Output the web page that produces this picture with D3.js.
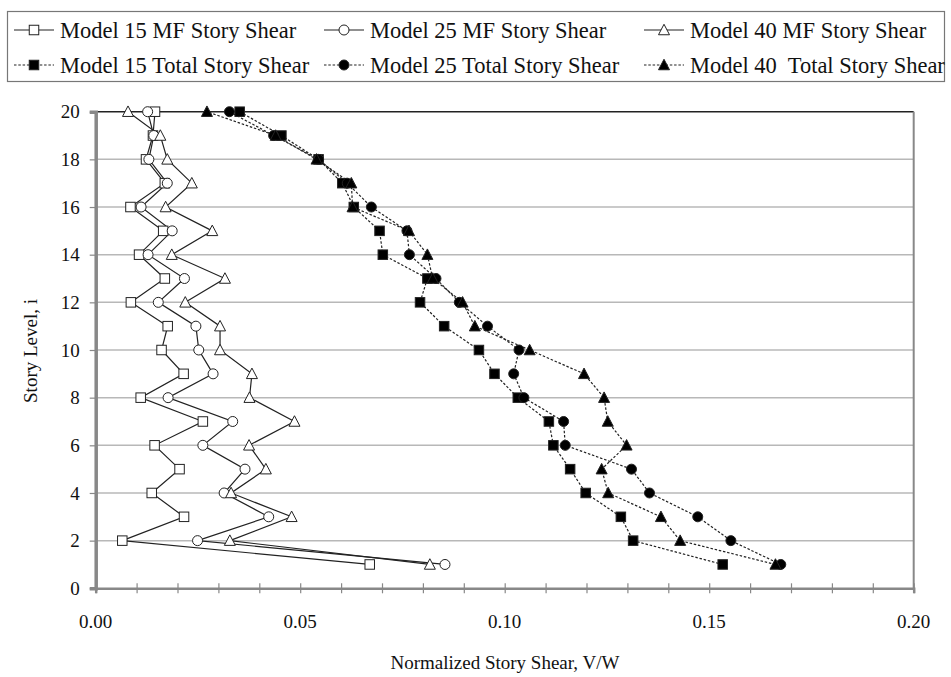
<!DOCTYPE html>
<html><head><meta charset="utf-8">
<script src="https://cdn.jsdelivr.net/npm/d3@7"></script>
<style>
html,body{margin:0;padding:0;background:#fff;}
svg text{font-family:"Liberation Serif",serif !important;fill:#111;white-space:pre;}
</style></head>
<body>
<svg id="chart" width="951" height="677"></svg>
<script>
const levels = [1,2,3,4,5,6,7,8,9,10,11,12,13,14,15,16,17,18,19,20];
const m15MF = [0.0670,0.0065,0.0216,0.0137,0.0205,0.0144,0.0262,0.0110,0.0215,0.0161,0.0176,0.0086,0.0169,0.0106,0.0165,0.0085,0.0169,0.0123,0.0140,0.0145];
const m25MF = [0.0854,0.0249,0.0423,0.0314,0.0365,0.0262,0.0335,0.0177,0.0287,0.0252,0.0245,0.0153,0.0217,0.0128,0.0187,0.0111,0.0175,0.0130,0.0142,0.0127];
const m40MF = [0.0817,0.0328,0.0479,0.0331,0.0416,0.0375,0.0486,0.0376,0.0382,0.0304,0.0304,0.0219,0.0316,0.0186,0.0285,0.0171,0.0235,0.0175,0.0158,0.0079];
const m15Total = [0.1533,0.1314,0.1284,0.1198,0.1160,0.1119,0.1108,0.1032,0.0975,0.0937,0.0852,0.0793,0.0811,0.0702,0.0694,0.0631,0.0603,0.0545,0.0454,0.0352];
const m25Total = [0.1675,0.1553,0.1472,0.1354,0.1310,0.1148,0.1144,0.1047,0.1022,0.1035,0.0958,0.0889,0.0832,0.0767,0.0761,0.0674,0.0615,0.0545,0.0435,0.0327];
const m40Total = [0.1662,0.1429,0.1382,0.1253,0.1237,0.1298,0.1252,0.1243,0.1194,0.1061,0.0927,0.0897,0.0824,0.0811,0.0766,0.0628,0.0625,0.0540,0.0440,0.0272];
const seriesNames = ["Model 15 MF Story Shear","Model 25 MF Story Shear","Model 40 MF Story Shear",
  "Model 15 Total Story Shear","Model 25 Total Story Shear","Model 40  Total Story Shear"];
const xTickLabels = [0, 0.05, 0.10, 0.15, 0.20];
const yTickLabels = [0,2,4,6,8,10,12,14,16,18,20];
const xTitle = "Normalized Story Shear, V/W";
const yTitle = "Story Level, i";

const series = [
  {name: seriesNames[0], values: m15MF, shape: "square", filled: false, dashed: false},
  {name: seriesNames[1], values: m25MF, shape: "circle", filled: false, dashed: false},
  {name: seriesNames[2], values: m40MF, shape: "triangle", filled: false, dashed: false},
  {name: seriesNames[3], values: m15Total, shape: "square", filled: true, dashed: true},
  {name: seriesNames[4], values: m25Total, shape: "circle", filled: true, dashed: true},
  {name: seriesNames[5], values: m40Total, shape: "triangle", filled: true, dashed: true}
];

const svg = d3.select("#chart");
const L = 95.7, R = 913.7, T = 111.7, B = 588.3;
const x = d3.scaleLinear().domain([0, 0.2]).range([L, R]);
const y = d3.scaleLinear().domain([0, 20]).range([B, T]);

// gridlines
svg.append("g").selectAll("line").data(yTickLabels.filter(d => d > 0 && d < 20)).join("line")
  .attr("x1", L).attr("x2", R).attr("y1", d => y(d)).attr("y2", d => y(d))
  .attr("stroke", "#b8b8b8").attr("stroke-width", 1.5);

// plot border top/right
svg.append("line").attr("x1", L).attr("x2", R).attr("y1", T).attr("y2", T).attr("stroke", "#222").attr("stroke-width", 1.5);
svg.append("line").attr("x1", R).attr("x2", R).attr("y1", T).attr("y2", B).attr("stroke", "#888").attr("stroke-width", 2);

// x axis
const xAxis = d3.axisBottom(x).tickValues(d3.range(0, 21).map(i => i / 100)).tickSize(5).tickFormat("");
const gx = svg.append("g").attr("transform", `translate(0,${B})`).call(xAxis);
gx.select(".domain").attr("stroke", "#888").attr("stroke-width", 2.5);
gx.selectAll(".tick line").attr("stroke", "#888").attr("stroke-width", 1.2).attr("y1", -5).attr("y2", 5);
svg.append("g").selectAll("text").data(xTickLabels).join("text")
  .attr("x", d => x(d)).attr("y", 628).attr("text-anchor", "middle")
  .attr("font-size", 19).text(d => d3.format(".2f")(d));

// y axis
const yAxis = d3.axisLeft(y).tickValues(yTickLabels).tickSize(6).tickPadding(10).tickFormat(d3.format("d"));
const gy = svg.append("g").attr("transform", `translate(${L},0)`).call(yAxis);
gy.select(".domain").attr("stroke", "#888").attr("stroke-width", 3.5);
gy.selectAll(".tick line").attr("stroke", "#888").attr("stroke-width", 1.2);
gy.selectAll(".tick text").attr("font-size", 19).attr("fill", "#111");

// titles
svg.append("text").attr("x", 505).attr("y", 669).attr("text-anchor", "middle").attr("font-size", 19).text(xTitle);
svg.append("text").attr("transform", "translate(37,351) rotate(-90)").attr("text-anchor", "middle").attr("font-size", 19).text(yTitle);

// markers
function drawMarker(g, shape, filled, cx, cy) {
  const fill = filled ? "#000" : "#fff";
  if (shape === "square") {
    const s = 9.5;
    g.append("rect").attr("x", cx - s / 2).attr("y", cy - s / 2).attr("width", s).attr("height", s)
      .attr("fill", fill).attr("stroke", "#222").attr("stroke-width", 1);
  } else if (shape === "circle") {
    g.append("circle").attr("cx", cx).attr("cy", cy).attr("r", 5)
      .attr("fill", fill).attr("stroke", "#222").attr("stroke-width", 1);
  } else {
    const h = 9.5, w = 11;
    g.append("path").attr("d", `M${cx},${cy - h / 2 - 1}L${cx + w / 2},${cy + h / 2}L${cx - w / 2},${cy + h / 2}Z`)
      .attr("fill", fill).attr("stroke", "#222").attr("stroke-width", 1);
  }
}

const line = d3.line().x(d => x(d[0])).y(d => y(d[1]));
const plot = svg.append("g");
series.forEach(s => {
  const pts = s.values.map((v, i) => [v, levels[i]]);
  plot.append("path").datum(pts).attr("d", line).attr("fill", "none")
    .attr("stroke", "#222").attr("stroke-width", 1.2)
    .attr("stroke-dasharray", s.dashed ? "2.5,1.8" : null);
});
series.forEach(s => {
  const g = plot.append("g");
  s.values.forEach((v, i) => drawMarker(g, s.shape, s.filled, x(v), y(levels[i])));
});

// legend
svg.append("rect").attr("x", 7.5).attr("y", 11.5).attr("width", 937).attr("height", 70)
  .attr("fill", "none").attr("stroke", "#777").attr("stroke-width", 1.2);
const legX = [14, 324, 644], legY = [30, 65];
series.forEach((s, i) => {
  const col = i % 3, row = Math.floor(i / 3);
  const lx = legX[col], ly = legY[row];
  const g = svg.append("g");
  g.append("line").attr("x1", lx).attr("x2", lx + 40).attr("y1", ly).attr("y2", ly)
    .attr("stroke", "#222").attr("stroke-width", 1.2).attr("stroke-dasharray", s.dashed ? "2.5,1.8" : null);
  drawMarker(g, s.shape, s.filled, lx + 20, ly);
  g.append("text").attr("x", lx + 46).attr("y", ly + 7.5).attr("font-size", 22.5).text(s.name);
});
</script>
</body></html>
